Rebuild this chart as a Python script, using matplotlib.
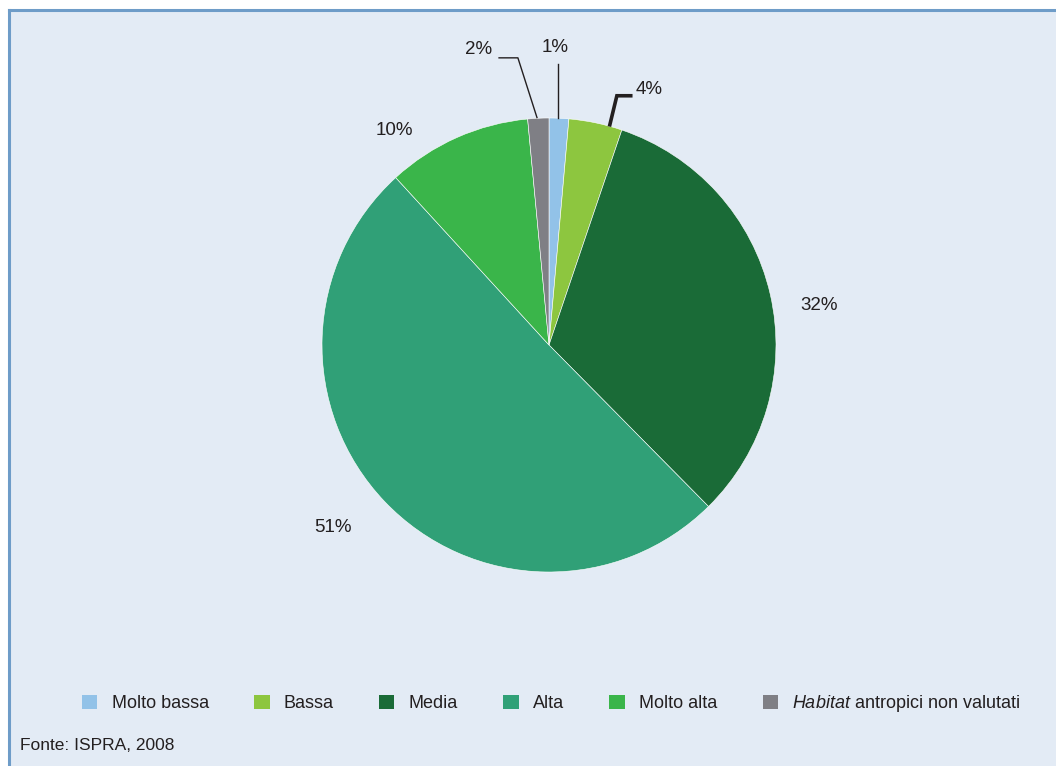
import matplotlib.pyplot as plt
from matplotlib.patches import Patch, Rectangle
from matplotlib.lines import Line2D

plt.rcParams['font.family'] = ['Liberation Sans', 'DejaVu Sans']
plt.rcParams['mathtext.fontset'] = 'custom'
plt.rcParams['mathtext.it'] = 'Liberation Sans:italic'
plt.rcParams['mathtext.rm'] = 'Liberation Sans'

# classes of ecological value, clockwise from the top
categories = ['Molto bassa', 'Bassa', 'Media', 'Alta', 'Molto alta',
              r'$\it{Habitat}$ antropici non valutati']
shares = [1.4, 3.8, 32.4, 50.6, 10.3, 1.5]
colors = ['#92C2E8', '#8DC63F', '#1A6B37', '#30A077', '#3AB54A', '#7F7F85']

# label spots (data units, pie radius = 1)
label_xy = [(0.026, 1.31), (0.44, 1.125), (1.19, 0.176), (-0.95, -0.806),
            (-0.683, 0.947), (-0.31, 1.30)]

bg = '#E3EBF5'
W, H = 1056, 766
fig = plt.figure(figsize=(W / 100, H / 100), dpi=100)
fig.patch.set_facecolor('white')

# panel with blue rule on top and left
fig.patches.append(Rectangle((9 / W, 0), 1, 1 - 10 / H, transform=fig.transFigure,
                             facecolor=bg, edgecolor='none', zorder=-5))
fig.lines.append(Line2D([9 / W, 9 / W], [0, 1 - 10 / H], transform=fig.transFigure,
                        color='#6E9CC8', lw=2.2, zorder=-4))
fig.lines.append(Line2D([9 / W, 1], [1 - 10 / H, 1 - 10 / H], transform=fig.transFigure,
                        color='#6E9CC8', lw=2.2, zorder=-4))

cx, cy, r = 549, 345, 227
ax = fig.add_axes([(cx - r) / W, (H - cy - r) / H, 2 * r / W, 2 * r / H])
ax.set_zorder(2)
wedges, _ = ax.pie(shares, colors=colors, startangle=90, counterclock=False,
                   radius=1, wedgeprops=dict(edgecolor='white', linewidth=0.4))
ax.set_xlim(-1, 1)
ax.set_ylim(-1, 1)
ax.axis('off')

for v, (x, y) in zip(shares, label_xy):
    ax.text(x, y, f'{v:.0f}%', ha='center', va='center', fontsize=13.5,
            color='#231F20', clip_on=False)

# leader lines for the thin slices
ax.plot([0.04, 0.04], [1.0, 1.24], color='#231F20', lw=1, clip_on=False)
ax.plot([-0.22, -0.137, -0.053], [1.265, 1.265, 1.002], color='#231F20', lw=1,
        clip_on=False)
ax.plot([0.36, 0.299, 0.268], [1.098, 1.098, 0.97], color='#231F20', lw=2.6,
        clip_on=False, solid_joinstyle='miter')

handles = [Patch(facecolor=c, edgecolor='none') for c in colors]
fig.legend(handles, categories, loc='center', bbox_to_anchor=(0.522, 1 - 704 / H),
           ncol=6, frameon=False, fontsize=13, handlelength=0.85, handleheight=0.85,
           handletextpad=0.8, columnspacing=2.5, labelcolor='#231F20')

fig.text(20 / W, 1 - 745 / H, 'Fonte: ISPRA, 2008', fontsize=12.5, color='#231F20',
         ha='left', va='center')

fig.savefig('out.png', dpi=100, facecolor=fig.get_facecolor())
